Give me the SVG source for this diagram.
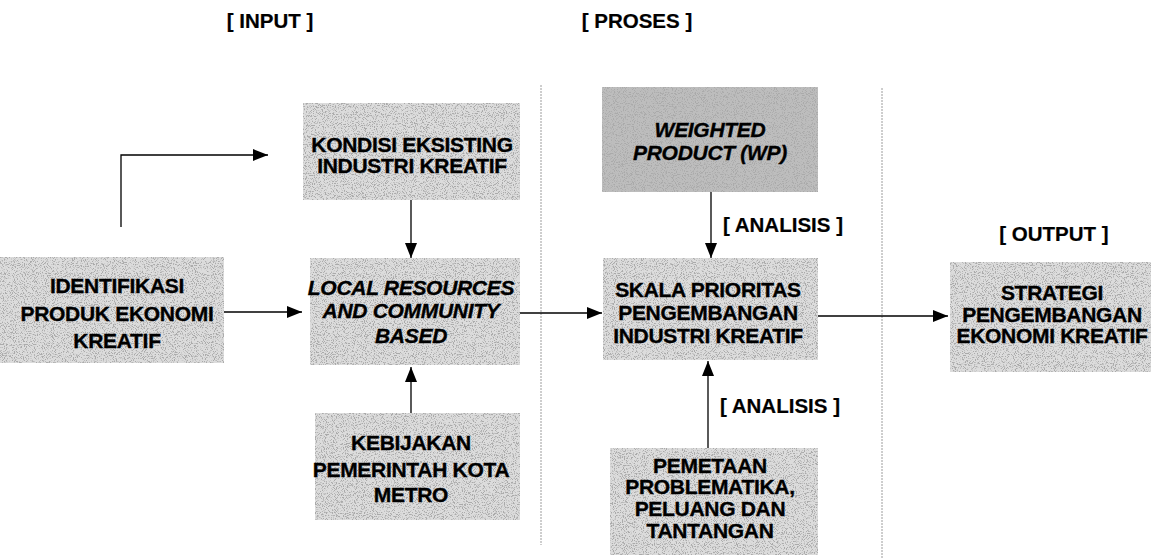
<svg xmlns="http://www.w3.org/2000/svg" width="1151" height="558" viewBox="0 0 1151 558">
<style>
  .box { fill: #dcdcdc; filter: url(#grain); }
  .dark { fill: #bdbdbd; }
  .t { font-family: "Liberation Sans", Arial, sans-serif; font-weight: bold; font-size: 21px; letter-spacing: -0.3px; fill: #000; stroke: #000; stroke-width: 0.35; text-anchor: middle; }
  .i { font-style: italic; }
  .h { font-family: "Liberation Sans", Arial, sans-serif; font-weight: bold; font-size: 20.5px; fill: #000; stroke: #000; stroke-width: 0.2; }
  .c { stroke: #000; stroke-width: 1.3; fill: none; marker-end: url(#ah); }
  .div { stroke: #9c9c9c; stroke-width: 1; stroke-dasharray: 2 1; }
</style>
<defs>
  <marker id="ah" markerWidth="16" markerHeight="12" refX="15" refY="6" orient="auto" markerUnits="userSpaceOnUse">
    <path d="M0,0 L15,6 L0,12 Z" fill="#000"/>
  </marker>
  <filter id="grain" x="0" y="0" width="100%" height="100%">
    <feTurbulence type="fractalNoise" baseFrequency="0.9" numOctaves="2" seed="7" result="n"/>
    <feColorMatrix in="n" type="matrix" values="0 0 0 0 0.4  0 0 0 0 0.4  0 0 0 0 0.4  7 0 0 0 -3.6" result="dots"/>
    <feComposite in="dots" in2="SourceGraphic" operator="in" result="d2"/>
    <feMerge><feMergeNode in="SourceGraphic"/><feMergeNode in="d2"/></feMerge>
  </filter>
</defs>
<rect width="1151" height="558" fill="#fff"/>

<g id="dividers">
  <line class="div" x1="541" y1="85" x2="541" y2="545"/>
  <line class="div" x1="882" y1="88" x2="882" y2="558"/>
</g>

<g id="headers">
  <text class="h" x="270" y="28" text-anchor="middle">[ INPUT ]</text>
  <text class="h" x="637" y="28" text-anchor="middle">[ PROSES ]</text>
  <text class="h" x="1054" y="241" text-anchor="middle">[ OUTPUT ]</text>
</g>

<g id="n-identifikasi">
  <rect class="box" x="0" y="257" width="224" height="106"/>
  <text class="t" x="117" y="293">IDENTIFIKASI</text>
  <text class="t" x="117" y="321">PRODUK EKONOMI</text>
  <text class="t" x="117" y="348">KREATIF</text>
</g>

<g id="n-kondisi">
  <rect class="box" x="303" y="103" width="217" height="97"/>
  <text class="t" x="412" y="152">KONDISI EKSISTING</text>
  <text class="t" x="412" y="173">INDUSTRI KREATIF</text>
</g>

<g id="n-local">
  <rect class="box" x="310" y="258" width="210" height="107"/>
  <text class="t i" x="411" y="295">LOCAL RESOURCES</text>
  <text class="t i" x="411" y="318">AND COMMUNITY</text>
  <text class="t i" x="411" y="343">BASED</text>
</g>

<g id="n-kebijakan">
  <rect class="box" x="315" y="413" width="205" height="107"/>
  <text class="t" x="411" y="450">KEBIJAKAN</text>
  <text class="t" x="411" y="477">PEMERINTAH KOTA</text>
  <text class="t" x="411" y="502">METRO</text>
</g>

<g id="n-weighted">
  <rect class="box dark" x="602" y="87" width="216" height="105"/>
  <text class="t i" x="710" y="137">WEIGHTED</text>
  <text class="t i" x="710" y="160">PRODUCT (WP)</text>
</g>

<g id="n-skala">
  <rect class="box" x="603" y="258" width="215" height="102"/>
  <text class="t" x="708" y="297">SKALA PRIORITAS</text>
  <text class="t" x="708" y="320">PENGEMBANGAN</text>
  <text class="t" x="708" y="343">INDUSTRI KREATIF</text>
</g>

<g id="n-pemetaan">
  <rect class="box" x="610" y="448" width="208" height="107"/>
  <text class="t" x="710" y="473">PEMETAAN</text>
  <text class="t" x="710" y="494">PROBLEMATIKA,</text>
  <text class="t" x="710" y="516">PELUANG DAN</text>
  <text class="t" x="710" y="538">TANTANGAN</text>
</g>

<g id="n-strategi">
  <rect class="box" x="950" y="262" width="201" height="110"/>
  <text class="t" x="1052" y="300">STRATEGI</text>
  <text class="t" x="1052" y="322">PENGEMBANGAN</text>
  <text class="t" x="1052" y="343">EKONOMI KREATIF</text>
</g>

<g id="connectors">
  <path class="c" d="M224,312 L302,312"/>
  <path class="c" d="M121,227 L121,155 L268,155"/>
  <path class="c" d="M411,200 L411,258"/>
  <path class="c" d="M411,413 L411,367"/>
  <path class="c" d="M520,313 L602,313"/>
  <path class="c" d="M711,192 L711,258"/>
  <path class="c" d="M708,448 L708,361"/>
  <path class="c" d="M818,316 L948,316"/>
  <text class="h" x="723" y="232">[ ANALISIS ]</text>
  <text class="h" x="720" y="413">[ ANALISIS ]</text>
</g>
</svg>
